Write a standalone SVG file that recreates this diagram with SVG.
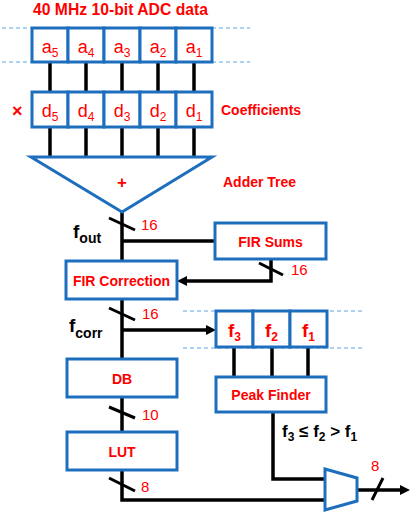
<svg xmlns="http://www.w3.org/2000/svg" width="411" height="513" viewBox="0 0 411 513">
<defs>
<style>
.box{fill:#fff;stroke:#1E6EBE;stroke-width:3}
.wire{fill:none;stroke:#000;stroke-width:3.5}
.slash{stroke:#000;stroke-width:3}
.dash{stroke:#5AA5E6;stroke-width:1;stroke-dasharray:4 3}
text{font-family:"Liberation Sans",Arial,sans-serif}
.red{fill:#FF0000}
.b{font-weight:bold}
.cell{font-size:18px;fill:#FF0000;text-anchor:middle}
.cellf{font-size:19px;font-weight:bold;fill:#FF0000;text-anchor:middle}
.num{font-size:15px;fill:#FF0000}
.name{font-size:14px;font-weight:bold;fill:#FF0000;text-anchor:middle}
.blk{fill:#000;font-weight:bold}
</style>
<marker id="arr" viewBox="0 0 10 10" refX="4" refY="5" markerWidth="10" markerHeight="10" markerUnits="userSpaceOnUse" orient="auto">
<path d="M0,0 L10,5 L0,10 z" fill="#000"/>
</marker>
</defs>
<rect width="411" height="513" fill="#fff"/>

<g id="guides">
<line class="dash" x1="2" y1="28" x2="250" y2="28"/>
<line class="dash" x1="2" y1="62" x2="250" y2="62"/>
<line class="dash" x1="183" y1="311" x2="363" y2="311"/>
<line class="dash" x1="183" y1="348" x2="363" y2="348"/>
</g>

<g id="connectors">
<path class="wire" d="M50,63 V91 M86,63 V91 M122,63 V91 M158,63 V91 M194,63 V91"/>
<path class="wire" d="M50,128 V157 M86,128 V157 M122,128 V157 M158,128 V157 M194,128 V157"/>
<path class="wire" d="M122,212 V261"/>
<path class="wire" d="M122,241 H215"/>
<path class="wire" d="M271,259 V281 H183" marker-end="url(#arr)"/>
<path class="wire" d="M122,299 V359"/>
<path class="wire" d="M122,330 H210" marker-end="url(#arr)"/>
<path class="wire" d="M234,348 V377 M272,348 V377 M308,348 V377"/>
<path class="wire" d="M122,397 V432"/>
<path class="wire" d="M122,470 V500 H325"/>
<path class="wire" d="M273,412 V479 H325"/>
<path class="wire" d="M357,490 H404" marker-end="url(#arr)"/>
<line class="slash" x1="109" y1="218" x2="135" y2="230"/>
<line class="slash" x1="259" y1="263" x2="283" y2="275"/>
<line class="slash" x1="109" y1="308" x2="135" y2="320"/>
<line class="slash" x1="109" y1="407" x2="135" y2="418"/>
<line class="slash" x1="109" y1="478" x2="135" y2="491"/>
<line class="slash" x1="372" y1="500" x2="383" y2="478"/>
<text class="num" x="141" y="230">16</text>
<text class="num" x="291" y="275">16</text>
<text class="num" x="142" y="319">16</text>
<text class="num" x="142" y="420">10</text>
<text class="num" x="141" y="492">8</text>
<text class="num" x="371" y="471">8</text>
<text class="blk" x="73" y="238" font-size="19">f<tspan font-size="14" dy="5">out</tspan></text>
<text class="blk" x="69" y="332" font-size="19">f<tspan font-size="14" dy="6">corr</tspan></text>
<text class="blk" x="282" y="437" font-size="17">f<tspan font-size="12" dy="4">3</tspan><tspan dy="-4"> ≤ f</tspan><tspan font-size="12" dy="4">2</tspan><tspan dy="-4"> &gt; f</tspan><tspan font-size="12" dy="4">1</tspan></text>
</g>

<text id="title" class="red b" x="33" y="15" font-size="16" textLength="175" lengthAdjust="spacingAndGlyphs">40 MHz 10-bit ADC data</text>

<g id="adc-data">
<rect class="box" x="32" y="28" width="36" height="34"/>
<rect class="box" x="68" y="28" width="36" height="34"/>
<rect class="box" x="104" y="28" width="36" height="34"/>
<rect class="box" x="140" y="28" width="36" height="34"/>
<rect class="box" x="176" y="28" width="36" height="34"/>
<text class="cell" x="50" y="53">a<tspan font-size="12" dy="4">5</tspan></text>
<text class="cell" x="86" y="53">a<tspan font-size="12" dy="4">4</tspan></text>
<text class="cell" x="122" y="53">a<tspan font-size="12" dy="4">3</tspan></text>
<text class="cell" x="158" y="53">a<tspan font-size="12" dy="4">2</tspan></text>
<text class="cell" x="194" y="53">a<tspan font-size="12" dy="4">1</tspan></text>
</g>

<g id="coefficients">
<text class="red b" x="12" y="117" font-size="18">×</text>
<rect class="box" x="32" y="92" width="36" height="35"/>
<rect class="box" x="68" y="92" width="36" height="35"/>
<rect class="box" x="104" y="92" width="36" height="35"/>
<rect class="box" x="140" y="92" width="36" height="35"/>
<rect class="box" x="176" y="92" width="36" height="35"/>
<text class="cell" x="50" y="117">d<tspan font-size="12" dy="4">5</tspan></text>
<text class="cell" x="86" y="117">d<tspan font-size="12" dy="4">4</tspan></text>
<text class="cell" x="122" y="117">d<tspan font-size="12" dy="4">3</tspan></text>
<text class="cell" x="158" y="117">d<tspan font-size="12" dy="4">2</tspan></text>
<text class="cell" x="194" y="117">d<tspan font-size="12" dy="4">1</tspan></text>
<text class="red b" x="221" y="115" font-size="14">Coefficients</text>
</g>

<g id="adder-tree">
<polygon class="box" points="31,157 212,157 122,212"/>
<text class="red b" x="122" y="188" font-size="17" text-anchor="middle">+</text>
<text class="red b" x="223" y="187" font-size="14">Adder Tree</text>
</g>

<g id="fir-sums">
<rect class="box" x="215" y="223" width="111" height="36"/>
<text class="name" x="270.5" y="247">FIR Sums</text>
</g>

<g id="fir-correction">
<rect class="box" x="66" y="261" width="111" height="38"/>
<text class="name" x="121.5" y="286" font-size="13">FIR Correction</text>
</g>

<g id="f-register">
<rect class="box" x="216" y="311" width="37" height="36"/>
<rect class="box" x="253" y="311" width="37" height="36"/>
<rect class="box" x="290" y="311" width="37" height="36"/>
<text class="cellf" x="234.5" y="337">f<tspan font-size="12" dy="4">3</tspan></text>
<text class="cellf" x="271.5" y="337">f<tspan font-size="12" dy="4">2</tspan></text>
<text class="cellf" x="308.5" y="337">f<tspan font-size="12" dy="4">1</tspan></text>
</g>

<g id="peak-finder">
<rect class="box" x="216" y="377" width="110" height="35"/>
<text class="name" x="271" y="400" font-size="15">Peak Finder</text>
</g>

<g id="db">
<rect class="box" x="67" y="359" width="110" height="38"/>
<text class="name" x="122" y="384">DB</text>
</g>

<g id="lut">
<rect class="box" x="67" y="432" width="110" height="38"/>
<text class="name" x="122" y="457">LUT</text>
</g>

<g id="mux">
<polygon class="box" points="325,469 357,478 357,501 325,510"/>
</g>
</svg>
